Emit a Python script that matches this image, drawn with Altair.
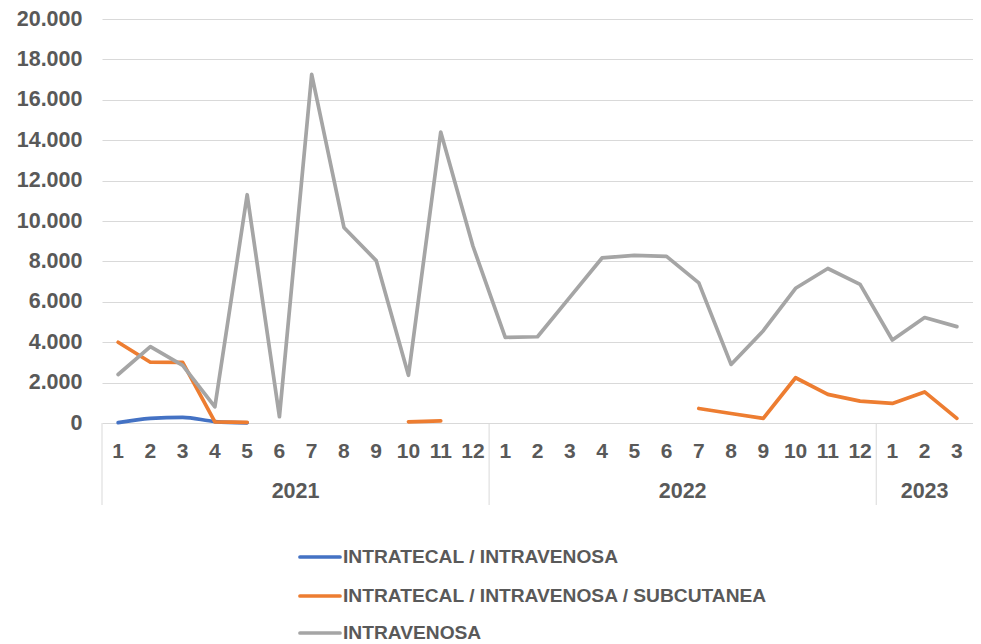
import altair as alt
import pandas as pd

# ---- data ----
months = [1, 2, 3, 4, 5, 6, 7, 8, 9, 10, 11, 12,
          1, 2, 3, 4, 5, 6, 7, 8, 9, 10, 11, 12,
          1, 2, 3]
years = [2021] * 12 + [2022] * 12 + [2023] * 3

series_names = ["INTRATECAL / INTRAVENOSA",
                "INTRATECAL / INTRAVENOSA / SUBCUTANEA",
                "INTRAVENOSA"]
series_colors = ["#4472C4", "#ED7D31", "#A5A5A5"]

intratecal_iv = [15, 230, 280, 70, 10, None, None, None, None, None, None, None,
                 None, None, None, None, None, None, None, None, None, None, None, None,
                 None, None, None]
intratecal_iv_sc = [4000, 3010, 3000, 60, 30, None, None, None, None, 60, 110, None,
                    None, None, None, None, None, None, 720, 470, 230, 2240, 1420, 1080,
                    970, 1540, 230]
intravenosa = [2400, 3780, 2850, 800, 11300, 310, 17260, 9680, 8040, 2360, 14400, 8750,
               4240, 4270, 6220, 8170, 8300, 8250, 6940, 2900, 4570, 6670, 7650, 6860,
               4110, 5220, 4770]

y_ticks = list(range(0, 20001, 2000))

# ---- tables ----
def series_df(name, values):
    rows, seg, prev = [], 0, False
    for i, v in enumerate(values):
        if v is None:
            if prev:
                seg += 1
            prev = False
            continue
        rows.append({"pos": i + 0.5, "value": v, "series": name, "seg": seg})
        prev = True
    return pd.DataFrame(rows)

all_series = [intratecal_iv, intratecal_iv_sc, intravenosa]
dfs = [series_df(n, v) for n, v in zip(series_names, all_series)]

df_months = pd.DataFrame({"pos": [i + 0.5 for i in range(len(months))],
                          "m": [str(m) for m in months]})
year_list = sorted(set(years))
year_rows, sep_rows = [], []
for y in year_list:
    idxs = [i for i, yy in enumerate(years) if yy == y]
    year_rows.append({"pos": (idxs[0] + idxs[-1] + 1) / 2, "year": str(y)})
    sep_rows.append({"pos": idxs[0]})
df_years = pd.DataFrame(year_rows)
df_sep = pd.DataFrame(sep_rows)

W, H = 871, 404
FONT = "Liberation Sans"
TXT = "#595959"
GRID = "#D9D9D9"

xs = alt.Scale(domain=[0, len(months)], nice=False, zero=False)
ys = alt.Scale(domain=[0, 20000], nice=False)
yaxis = alt.Axis(values=y_ticks, grid=True, gridColor=GRID, gridWidth=1,
                 domain=False, ticks=False, labelFont=FONT, labelFontSize=21.5,
                 labelFontWeight="bold", labelColor=TXT, labelPadding=20,
                 labelExpr="replace(format(datum.value, ','), ',', '.')",
                 title=None)

layers = []
for df, name, col in zip(dfs, series_names, series_colors):
    interp = "monotone" if name == series_names[0] else "linear"
    layers.append(
        alt.Chart(df).mark_line(strokeWidth=3.7, strokeCap="round",
                                strokeJoin="round", color=col,
                                interpolate=interp)
        .encode(x=alt.X("pos:Q", scale=xs, axis=None),
                y=alt.Y("value:Q", scale=ys, axis=yaxis),
                detail="seg:N")
    )

sep = alt.Chart(df_sep).mark_rule(color=GRID, strokeWidth=1).encode(
    x=alt.X("pos:Q", scale=xs, axis=None),
    y=alt.value(H), y2=alt.value(H + 82))

month_text = alt.Chart(df_months).mark_text(
    font=FONT, fontSize=21, fontWeight="bold", color=TXT, baseline="middle"
).encode(x=alt.X("pos:Q", scale=xs, axis=None), y=alt.value(H + 29), text="m:N")

year_text = alt.Chart(df_years).mark_text(
    font=FONT, fontSize=21.5, fontWeight="bold", color=TXT, baseline="middle"
).encode(x=alt.X("pos:Q", scale=xs, axis=None), y=alt.value(H + 69), text="year:N")

legend_layers = []
leg_y = [538, 577, 614]
for name, col, ly in zip(series_names, series_colors, leg_y):
    ldf = pd.DataFrame({"series": [name]})
    legend_layers.append(
        alt.Chart(ldf).mark_rule(color=col, strokeWidth=3.7, strokeCap="round")
        .encode(x=alt.value(198), x2=alt.value(238), y=alt.value(ly)))
    legend_layers.append(
        alt.Chart(ldf).mark_text(font=FONT, fontSize=19.2, fontWeight="bold",
                                 color=TXT, align="left", baseline="middle")
        .encode(x=alt.value(241), y=alt.value(ly), text="series:N"))

chart = alt.layer(sep, *layers, month_text, year_text, *legend_layers).properties(
    width=W, height=H,
    autosize=alt.AutoSizeParams(type="none"),
    padding={"left": 94, "top": 11, "right": 0, "bottom": 219},
).configure_view(stroke=None)

chart.save("out.html", embed_options={"renderer": "svg", "actions": False})
